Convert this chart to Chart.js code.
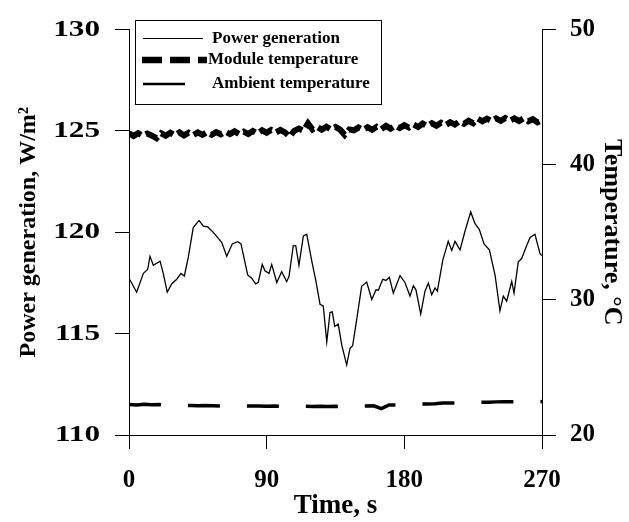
<!DOCTYPE html>
<html>
<head>
<meta charset="utf-8">
<script src="https://cdn.jsdelivr.net/npm/chart.js@4.4.1/dist/chart.umd.min.js"></script>
<style>
  html, body { margin: 0; padding: 0; background: #fff; }
  canvas { display: block; }
</style>
</head>
<body>
<canvas id="chart" width="629" height="522"></canvas>
<script>
// series labels
const seriesNames = ['Power generation', 'Module temperature', 'Ambient temperature'];

// axis ticks
const timeTicks = [0, 90, 180, 270];
const powerTicks = [110, 115, 120, 125, 130];
const tempTicks = [20, 30, 40, 50];

// power generation, W/m2
const powerTime = [0, 5, 9.4, 12.2, 13.7, 15.9, 20.3, 22.4, 25, 27.9, 31.2, 34, 36.2, 38.8, 42, 45.8, 48.6, 51.5, 55.1, 58.8,
  60.6, 63.9, 67.5, 71.1, 73.2, 77.6, 80.2, 82.8, 84.5, 87.1, 88.9, 91.5, 93.3, 96.6, 99.8, 103.1, 104.6, 107.4, 109, 111.1,
  114, 116.2, 119.4, 122.1, 124.9, 127, 129.3, 131.4, 132.9, 134.5, 136.8, 139.1, 142.3, 144.5, 146.2, 148.9, 152.1, 155.4, 158.7, 161.5,
  163, 165.9, 168, 170.2, 172.8, 177.2, 180.4, 183.7, 185.9, 187.6, 190.7, 193.5, 195.7, 197.9, 200.1, 201.6, 205.1, 208.7, 211, 213.1,
  216.4, 219.7, 223.4, 226.2, 229, 232.1, 235.6, 239.3, 242.5, 244.7, 246.9, 250.2, 251.7, 254.5, 256.7, 260, 262.2, 265.4, 268.7, 270];
const powerValues = [117.73, 117.04, 117.97, 118.16, 118.81, 118.37, 118.57, 117.97, 117.04, 117.45, 117.68, 117.97, 117.84, 118.78, 120.23, 120.58, 120.3, 120.26, 119.99, 119.66,
  119.5, 118.81, 119.42, 119.53, 119.42, 117.89, 117.73, 117.45, 117.52, 118.41, 118.1, 117.97, 118.41, 117.52, 118.05, 117.57, 117.81, 119.34, 119.34, 118.37,
  119.82, 119.9, 118.61, 117.62, 116.44, 116.36, 114.59, 116.04, 116.07, 115.35, 115.47, 114.43, 113.46, 114.27, 114.4, 115.71, 117.33, 117.54, 116.68, 117.16,
  117.14, 117.68, 117.62, 117.78, 117.0, 117.86, 117.52, 116.85, 117.36, 117.16, 115.96, 117.09, 117.49, 116.92, 117.25, 117.09, 118.61, 119.55, 119.1, 119.55,
  119.13, 120.06, 121.0, 120.42, 120.14, 119.42, 119.13, 117.89, 116.12, 116.85, 116.6, 117.57, 117.0, 118.54, 118.7, 119.34, 119.74, 119.9, 118.94, 118.85];

// module temperature, oC, every 3 s
const moduleTime = [0, 3, 6, 9, 12, 15, 18, 21, 24, 27, 30, 33, 36, 39, 42, 45, 48, 51, 54, 57,
  60, 63, 66, 69, 72, 75, 78, 81, 84, 87, 90, 93, 96, 99, 102, 105, 108, 111, 114, 117,
  120, 123, 126, 129, 132, 135, 138, 141, 144, 147, 150, 153, 156, 159, 162, 165, 168, 171, 174, 177,
  180, 183, 186, 189, 192, 195, 198, 201, 204, 207, 210, 213, 216, 219, 222, 225, 228, 231, 234, 237,
  240, 243, 246, 249, 252, 255, 258, 261, 264, 267, 270];
const moduleValues = [42.32, 42.12, 42.32, 42.14, 42.30, 42.14, 41.95, 42.32, 42.14, 42.36, 42.16, 42.38, 42.16, 42.36, 42.18, 42.38, 42.20, 42.40, 42.20, 42.40,
  42.24, 42.44, 42.26, 42.46, 42.26, 42.44, 42.26, 42.48, 42.30, 42.54, 42.36, 42.56, 42.38, 42.56, 42.38, 42.05, 42.50, 42.66, 42.50, 43.05,
  42.60, 42.80, 42.58, 42.80, 42.60, 42.78, 42.58, 42.20, 42.60, 42.54, 42.74, 42.56, 42.76, 42.58, 42.80, 42.62, 42.86, 42.66, 42.88, 42.70,
  42.92, 42.74, 42.96, 42.78, 43.04, 42.86, 43.06, 42.88, 43.10, 42.92, 43.14, 42.96, 43.20, 43.02, 43.24, 43.06, 43.40, 43.20, 43.40, 43.22,
  43.42, 43.24, 43.44, 43.24, 43.42, 43.22, 43.42, 43.20, 43.36, 43.12, 43.26];

// ambient temperature, oC, every 5 s
const ambientTime = [0, 5, 10, 15, 20, 25, 30, 35, 40, 45, 50, 55, 60, 65, 70, 75, 80, 85, 90, 95,
  100, 105, 110, 115, 120, 125, 130, 135, 140, 145, 150, 155, 160, 165, 170, 175, 180, 185, 190, 195,
  200, 205, 210, 215, 220, 225, 230, 235, 240, 245, 250, 255, 260, 265, 270];
const ambientValues = [22.26, 22.22, 22.27, 22.24, 22.25, 22.20, 22.20, 22.18, 22.19, 22.16, 22.18, 22.17, 22.15, 22.17, 22.15, 22.16, 22.14, 22.15, 22.13, 22.14,
  22.12, 22.13, 22.11, 22.13, 22.11, 22.12, 22.10, 22.12, 22.11, 22.13, 22.12, 22.14, 22.16, 21.95, 22.22, 22.22, 22.25, 22.26, 22.28, 22.30,
  22.32, 22.36, 22.37, 22.38, 22.38, 22.40, 22.42, 22.43, 22.45, 22.46, 22.46, 22.47, 22.47, 22.46, 22.47];

const FONT = '"Liberation Serif", "Times New Roman", serif';

function pairs(xs, ys) {
  return xs.map((x, i) => ({ x: x, y: ys[i] }));
}

function onlyTicks(list) {
  return function(scale) {
    scale.ticks = list.map(v => ({ value: v }));
  };
}

// wrap a scale draw method so its text comes out wider, like the scanned figure
function widen(scale, method, anchorX, factor) {
  if (scale['_wide_' + method]) return;
  const orig = scale[method];
  scale[method] = function(area) {
    const c = this.ctx;
    const ax = typeof anchorX === 'function' ? anchorX(this) : anchorX;
    c.save();
    c.translate(ax, 0);
    c.scale(factor, 1);
    c.translate(-ax, 0);
    orig.call(this, area);
    c.restore();
  };
  scale['_wide_' + method] = true;
}

const widerText = {
  id: 'widerText',
  beforeDraw(chart) {
    widen(chart.scales.y, 'drawLabels', s => s.right - 14 - 15, 1.3);
  }
};

// boxed legend in the upper left of the plot
const boxLegend = {
  id: 'boxLegend',
  afterDraw(chart) {
    const ctx = chart.ctx;
    const ds = chart.data.datasets;
    ctx.save();
    ctx.fillStyle = '#fff';
    ctx.fillRect(135.5, 20.5, 246, 84);
    ctx.strokeStyle = '#000';
    ctx.lineWidth = 1;
    ctx.strokeRect(135.5, 20.5, 246, 84);

    const rows = [
      { y: 38.5, x0: 143, x1: 203, w: 1, dash: [], tx: 212 },
      { y: 60, x0: 142, x1: 207, w: 6.5, dash: [20, 8], tx: 208 },
      { y: 84, x0: 143, x1: 185, w: 2.5, dash: [], tx: 212 }
    ];
    ctx.font = 'bold 17px ' + FONT;
    ctx.textBaseline = 'middle';
    rows.forEach((r, i) => {
      ctx.beginPath();
      ctx.setLineDash(r.dash);
      ctx.lineWidth = r.w;
      ctx.strokeStyle = '#000';
      ctx.moveTo(r.x0, r.y);
      ctx.lineTo(r.x1, r.y);
      ctx.stroke();
      ctx.setLineDash([]);
      ctx.fillStyle = '#000';
      ctx.fillText(ds[i].label, r.tx, Math.round(r.y));
    });
    ctx.restore();
  }
};

const tickFont = { family: FONT, size: 24, weight: 'bold' };

new Chart(document.getElementById('chart').getContext('2d'), {
  type: 'line',
  data: {
    datasets: [
      {
        label: seriesNames[0],
        data: pairs(powerTime, powerValues),
        yAxisID: 'y',
        borderColor: '#000',
        borderWidth: 1.3,
        pointRadius: 0,
        tension: 0
      },
      {
        label: seriesNames[1],
        data: pairs(moduleTime, moduleValues),
        yAxisID: 'y2',
        borderColor: '#000',
        borderWidth: 6,
        borderDash: [14, 5],
        pointRadius: 0,
        tension: 0
      },
      {
        label: seriesNames[2],
        data: pairs(ambientTime, ambientValues),
        yAxisID: 'y2',
        borderColor: '#000',
        borderWidth: 3.5,
        borderDash: [32, 27],
        pointRadius: 0,
        tension: 0
      }
    ]
  },
  options: {
    responsive: false,
    animation: false,
    layout: { padding: { top: 21, left: 0, right: 0, bottom: 0 } },
    plugins: {
      legend: { display: false },
      tooltip: { enabled: false }
    },
    scales: {
      x: {
        type: 'linear',
        min: 0,
        max: 270,
        afterBuildTicks: onlyTicks(timeTicks),
        ticks: { font: { family: FONT, size: 25, weight: 'bold' }, color: '#000', padding: 17, maxRotation: 0 },
        grid: { drawOnChartArea: false, tickLength: 14, color: '#000' },
        border: { color: '#000', width: 1 },
        title: { display: true, text: 'Time, s', font: { family: FONT, size: 27, weight: 'bold' }, color: '#000', padding: { top: 0, bottom: 0 } },
        afterFit: function(scale) { scale.height = 87; }
      },
      y: {
        position: 'left',
        min: 110,
        max: 130,
        afterBuildTicks: onlyTicks(powerTicks),
        ticks: { font: tickFont, color: '#000', padding: 15 },
        grid: { drawOnChartArea: false, tickLength: 14, color: '#000' },
        border: { color: '#000', width: 1 },
        title: { display: true, text: 'Power generation, W/m\u00B2', font: { family: FONT, size: 24, weight: 'bold' }, color: '#000', padding: { top: 14, bottom: 0 } },
        afterFit: function(scale) { scale.width = 129; }
      },
      y2: {
        position: 'right',
        min: 20,
        max: 50,
        afterBuildTicks: onlyTicks(tempTicks),
        ticks: { font: { family: FONT, size: 25, weight: 'bold' }, color: '#000', padding: 14 },
        grid: { drawOnChartArea: false, tickLength: 14, color: '#000' },
        border: { color: '#000', width: 1 },
        title: { display: true, text: 'Temperature, \u00B0C', font: { family: FONT, size: 26, weight: 'bold' }, color: '#000', padding: { top: 2, bottom: 0 } },
        afterFit: function(scale) { scale.width = 87; }
      }
    }
  },
  plugins: [widerText, boxLegend]
});
</script>
</body>
</html>
